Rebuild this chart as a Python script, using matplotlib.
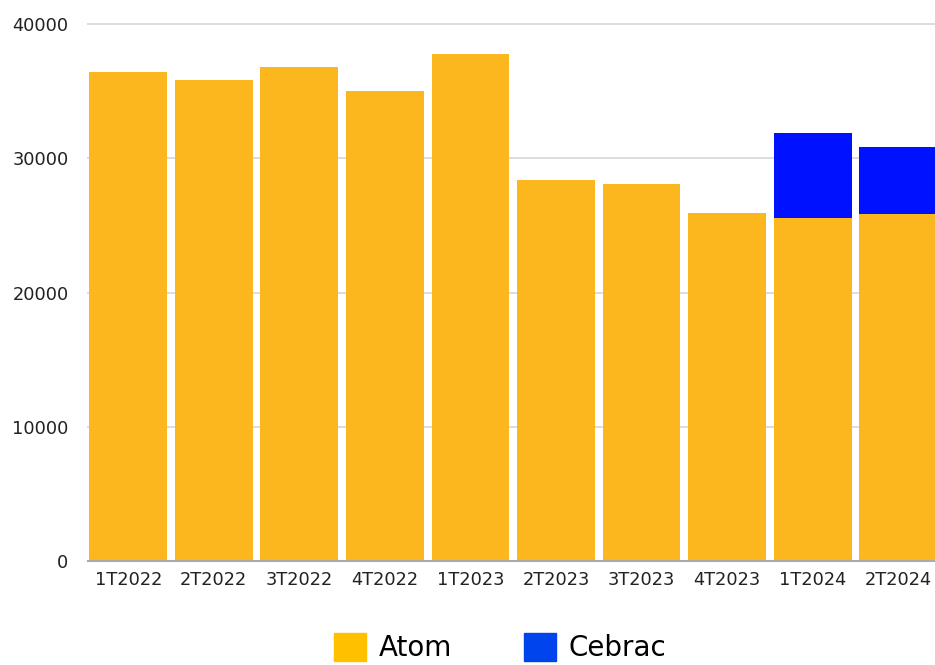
import numpy as np
import matplotlib
matplotlib.use("Agg")
import matplotlib.pyplot as plt
from matplotlib.patches import Patch

quarters = ['1T2022', '2T2022', '3T2022', '4T2022', '1T2023',
            '2T2023', '3T2023', '4T2023', '1T2024', '2T2024']
atom = [36400, 35800, 36800, 35000, 37800, 28400, 28100, 25900, 25550, 25850]
cebrac = [0, 0, 0, 0, 0, 0, 0, 0, 6330, 4990]
yticks = [0, 10000, 20000, 30000, 40000]

fig = plt.figure(figsize=(9.35, 6.65), dpi=100)
ax = fig.add_axes([88 / 935, 1 - 561 / 665, 1 - 88 / 935, (561 - 24) / 665])

x = np.arange(len(quarters))
ax.bar(x, atom, width=0.91, color='#FDB71E', zorder=2)
ax.bar(x, cebrac, width=0.91, bottom=atom, color='#0011FF', zorder=2)

ax.set_xlim(-0.47, 9.43)
ax.set_ylim(0, 40000)
ax.set_yticks(yticks)
ax.set_yticklabels([str(t) for t in yticks])
ax.set_xticks(x)
ax.set_xticklabels(quarters)
ax.tick_params(axis='both', length=0, labelsize=12.8, colors='#222222')
ax.tick_params(axis='y', pad=14)
ax.tick_params(axis='x', pad=7)
for s in ax.spines.values():
    s.set_visible(False)
ax.grid(axis='y', color='#DDDDDD', linewidth=1.4, zorder=0)
for gl in ax.get_ygridlines():
    gl.set_clip_on(False)
ax.axhline(0, color='#AAAAAA', linewidth=1.5, zorder=3, clip_on=False)

handles = [Patch(color='#FFC000', label='Atom'), Patch(color='#0044EE', label='Cebrac')]
fig.legend(handles=handles, loc='center', bbox_to_anchor=(0.535, 0.026), ncol=2,
           frameon=False, fontsize=20, handlelength=1.15, handleheight=1.15,
           handletextpad=0.45, columnspacing=2.6)

fig.savefig('out.png', dpi=100)
